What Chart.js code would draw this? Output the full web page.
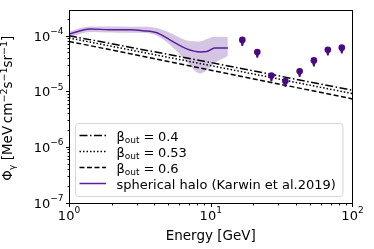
<!DOCTYPE html>
<html>
<head>
<meta charset="utf-8">
<script src="https://cdn.jsdelivr.net/npm/chart.js@4"></script>
<style>
  body { margin: 0; background: #fff; }
  canvas { display: block; }
</style>
</head>
<body>
<canvas id="myChart" width="374" height="249"></canvas>
<script>
// model lines (power laws), read at E = 1, 10, 100 GeV
var lineEnergy = [1, 10, 100];
var beta04 = [1.0e-4, 3.3e-5, 1.04e-5];
var beta053 = [9.1e-5, 2.9e-5, 9.1e-6];
var beta06 = [7.9e-5, 2.4e-5, 7.3e-6];

// spherical halo (Karwin et al. 2019)
var haloEnergy = [1, 1.41, 1.94, 2.69, 3.32, 4.17, 5.15, 6.77, 8.39, 9.37, 10.66, 13.2];
var haloFlux = [1.07e-4, 1.32e-4, 1.28e-4, 1.28e-4, 1.23e-4, 1.13e-4, 8.4e-5, 5.8e-5, 5.1e-5, 5.2e-5, 6.0e-5, 6.0e-5];
var haloUpper = [1.2e-4, 1.47e-4, 1.46e-4, 1.45e-4, 1.45e-4, 1.37e-4, 1.13e-4, 8.2e-5, 7.9e-5, 8.7e-5, 9.6e-5, 9.5e-5];
var haloLower = [9.2e-5, 1.17e-4, 1.14e-4, 1.13e-4, 1.13e-4, 1.0e-4, 6.9e-5, 3.4e-5, 2.1e-5, 2.4e-5, 3.2e-5, 4.3e-5];

// data points with lower error
var pointEnergy = [16.7, 21.3, 26.8, 33.6, 42.4, 53.4, 67, 84];
var pointFlux = [8.4e-5, 5.1e-5, 1.93e-5, 1.53e-5, 2.3e-5, 3.6e-5, 5.6e-5, 6.1e-5];
var pointLow = [6.5e-5, 4.0e-5, 1.5e-5, 1.2e-5, 1.8e-5, 2.8e-5, 4.4e-5, 4.8e-5];

// ticks
var xMajor = [1, 10, 100];
var xTickExp = ['0', '1', '2'];
var yMajor = [1e-7, 1e-6, 1e-5, 1e-4];
var yTickExp = ['\u22127', '\u22126', '\u22125', '\u22124'];

var legendLabels = ['0.4', '0.53', '0.6'];

var FONT = '"DejaVu Sans", sans-serif';
var LINE_PURPLE = '#5a1e9c';
var PT_PURPLE = '#4b0a82';

function xy(xs, ys) {
    return xs.map(function(x, i) { return {x: x, y: ys[i]}; });
}

var overlay = {
    id: 'overlay',
    afterDraw: function(chart) {
        var ctx = chart.ctx;
        var xs = chart.scales.x, ys = chart.scales.y;
        var a = chart.chartArea;
        ctx.save();

        // error bars + markers
        ctx.fillStyle = PT_PURPLE;
        ctx.strokeStyle = PT_PURPLE;
        for (var i = 0; i < pointEnergy.length; i++) {
            var px = xs.getPixelForValue(pointEnergy[i]);
            var py = ys.getPixelForValue(pointFlux[i]);
            var pl = ys.getPixelForValue(pointLow[i]);
            ctx.beginPath();
            ctx.moveTo(px - 2.2, py);
            ctx.lineTo(px + 2.2, py);
            ctx.lineTo(px + 0.8, pl);
            ctx.lineTo(px - 0.8, pl);
            ctx.closePath();
            ctx.fill();
            ctx.beginPath();
            ctx.arc(px, py, 3.3, 0, Math.PI * 2);
            ctx.fill();
        }

        // frame
        ctx.strokeStyle = '#000';
        ctx.lineWidth = 1;
        ctx.strokeRect(Math.round(a.left) + 0.5, Math.round(a.top) + 0.5,
            Math.round(a.right - a.left) - 1, Math.round(a.bottom - a.top));

        // ticks
        var bottom = Math.round(a.bottom) + 0.5;
        var left = Math.round(a.left) + 0.5;
        ctx.beginPath();
        for (var d = 0; d < 2; d++) {
            for (var m = 1; m <= 9; m++) {
                var v = m * Math.pow(10, d);
                var x = Math.round(xs.getPixelForValue(v)) + 0.5;
                var len = m === 1 ? 3.5 : 2;
                ctx.moveTo(x, bottom); ctx.lineTo(x, bottom + len);
            }
        }
        var x100 = Math.round(xs.getPixelForValue(100)) - 0.5;
        ctx.moveTo(x100, bottom); ctx.lineTo(x100, bottom + 3.5);
        for (var e = -7; e <= -4; e++) {
            for (var m2 = 1; m2 <= 9; m2++) {
                var vy = m2 * Math.pow(10, e);
                if (vy > ys.max) break;
                var y = Math.round(ys.getPixelForValue(vy)) + 0.5;
                var len2 = m2 === 1 ? 3.5 : 2;
                ctx.moveTo(left, y); ctx.lineTo(left - len2, y);
            }
        }
        ctx.stroke();

        // tick labels
        ctx.fillStyle = '#000';
        ctx.textBaseline = 'alphabetic';
        xMajor.forEach(function(v, i) {
            var x = xs.getPixelForValue(v);
            ctx.font = '13px ' + FONT;
            var w1 = ctx.measureText('10').width;
            ctx.font = '9px ' + FONT;
            var w2 = ctx.measureText(xTickExp[i]).width;
            var sx = x - (w1 + w2) / 2;
            ctx.font = '13px ' + FONT;
            ctx.fillText('10', sx, 219.5);
            ctx.font = '9px ' + FONT;
            ctx.fillText(xTickExp[i], sx + w1, 213);
        });
        yMajor.forEach(function(v, i) {
            var y = ys.getPixelForValue(v);
            ctx.font = '9px ' + FONT;
            var w2 = ctx.measureText(yTickExp[i]).width;
            ctx.font = '13px ' + FONT;
            var w1 = ctx.measureText('10').width;
            var ex = 63.5 - w2;
            ctx.fillText('10', ex - w1, y + 5);
            ctx.font = '9px ' + FONT;
            ctx.fillText(yTickExp[i], ex, y - 1.5);
        });

        // x title
        ctx.font = '13.5px ' + FONT;
        ctx.textAlign = 'center';
        ctx.fillText('Energy [GeV]', (a.left + a.right) / 2, 240);
        ctx.textAlign = 'left';

        // y title (rotated), pieces: [text, size, dy]
        var parts = [
            ['\u03a6', 13.5, 0], ['\u03b3', 9.5, 3], [' [MeV\u2009cm', 13.5, 0], ['\u22122', 9.5, -5.5],
            ['s', 13.5, 0], ['\u22121', 9.5, -5.5], ['sr', 13.5, 0], ['\u22121', 9.5, -5.5], [']', 13.5, 0]
        ];
        var total = 0;
        parts.forEach(function(p) { ctx.font = p[1] + 'px ' + FONT; total += ctx.measureText(p[0]).width; });
        ctx.save();
        ctx.translate(12, (a.top + a.bottom) / 2 + 2);
        ctx.rotate(-Math.PI / 2);
        var cx = -total / 2;
        parts.forEach(function(p) {
            ctx.font = p[1] + 'px ' + FONT;
            ctx.fillText(p[0], cx, p[2]);
            cx += ctx.measureText(p[0]).width;
        });
        ctx.restore();

        // legend
        var lx = 75.5, ly = 123.5, lw = 267.5, lh = 73;
        ctx.beginPath();
        ctx.roundRect(lx, ly, lw, lh, 3);
        ctx.fillStyle = 'rgba(255,255,255,0.85)';
        ctx.fill();
        ctx.strokeStyle = '#d6d6d6';
        ctx.stroke();
        var rows = [135.5, 151.5, 167.5, 183.5];
        var dashes = [[8, 2.5, 1.5, 2.5], [1.5, 2], [5, 2.5]];
        for (var r = 0; r < 4; r++) {
            ctx.beginPath();
            ctx.moveTo(79.5, rows[r]);
            ctx.lineTo(106, rows[r]);
            ctx.lineWidth = 1.5;
            if (r < 3) {
                ctx.setLineDash(dashes[r]);
                ctx.strokeStyle = '#000';
            } else {
                ctx.setLineDash([]);
                ctx.strokeStyle = LINE_PURPLE;
            }
            ctx.stroke();
            ctx.setLineDash([]);
            ctx.fillStyle = '#000';
            var tx = 116.5, base = rows[r] + 5;
            if (r < 3) {
                ctx.font = '13px ' + FONT;
                ctx.fillText('\u03b2', tx, base);
                tx += ctx.measureText('\u03b2').width;
                ctx.font = '9px ' + FONT;
                ctx.fillText('out', tx, base + 2);
                tx += ctx.measureText('out').width + 4;
                ctx.font = '13px ' + FONT;
                ctx.fillText('=', tx, base);
                tx += ctx.measureText('=').width + 3.5;
                ctx.fillText(legendLabels[r], tx, base);
            } else {
                ctx.font = '13px ' + FONT;
                ctx.fillText('spherical halo (Karwin et al.2019)', tx, base);
            }
        }
        ctx.restore();
    }
};

window.onload = function() {
    var ctx = document.getElementById('myChart').getContext('2d');
    var myChart = new Chart(ctx, {
        type: 'scatter',
        data: {
            datasets: [
                {
                    label: 'lower',
                    data: xy(haloEnergy, haloLower),
                    showLine: true,
                    borderWidth: 0,
                    borderColor: 'rgba(0,0,0,0)',
                    pointRadius: 0,
                    cubicInterpolationMode: 'monotone',
                    order: 5
                },
                {
                    label: 'upper',
                    data: xy(haloEnergy, haloUpper),
                    showLine: true,
                    borderWidth: 0,
                    borderColor: 'rgba(0,0,0,0)',
                    backgroundColor: 'rgba(102,51,153,0.28)',
                    fill: '-1',
                    pointRadius: 0,
                    cubicInterpolationMode: 'monotone',
                    order: 4
                },
                {
                    label: 'spherical halo',
                    data: xy(haloEnergy, haloFlux),
                    showLine: true,
                    borderWidth: 1.5,
                    borderColor: LINE_PURPLE,
                    pointRadius: 0,
                    cubicInterpolationMode: 'monotone',
                    order: 3
                },
                {
                    label: 'b0.4',
                    data: xy(lineEnergy, beta04),
                    showLine: true,
                    borderWidth: 1.5,
                    borderColor: '#000',
                    borderDash: [8, 2.5, 1.5, 2.5],
                    pointRadius: 0,
                    order: 2
                },
                {
                    label: 'b0.53',
                    data: xy(lineEnergy, beta053),
                    showLine: true,
                    borderWidth: 1.5,
                    borderColor: '#000',
                    borderDash: [1.5, 2],
                    pointRadius: 0,
                    order: 2
                },
                {
                    label: 'b0.6',
                    data: xy(lineEnergy, beta06),
                    showLine: true,
                    borderWidth: 1.5,
                    borderColor: '#000',
                    borderDash: [5, 2.5],
                    pointRadius: 0,
                    order: 2
                }
            ]
        },
        options: {
            responsive: false,
            animation: false,
            devicePixelRatio: 1,
            layout: { padding: { top: 10, right: 21.5, left: 0, bottom: 0 } },
            plugins: { legend: { display: false }, tooltip: { enabled: false } },
            scales: {
                x: {
                    type: 'logarithmic',
                    min: 1,
                    max: 100,
                    ticks: { display: false },
                    grid: { display: false },
                    border: { display: false },
                    afterFit: function(s) { s.height = 46.5; }
                },
                y: {
                    type: 'logarithmic',
                    min: 1e-7,
                    max: 2.9e-4,
                    ticks: { display: false },
                    grid: { display: false },
                    border: { display: false },
                    afterFit: function(s) { s.width = 69; }
                }
            }
        },
        plugins: [overlay]
    });
};
</script>
</body>
</html>
